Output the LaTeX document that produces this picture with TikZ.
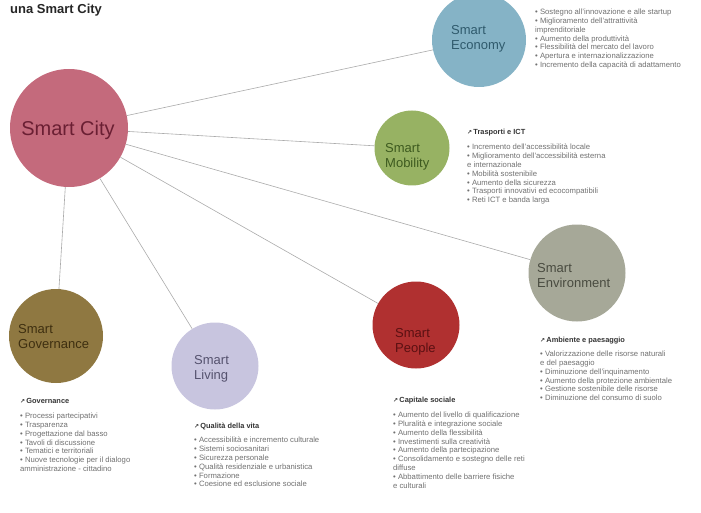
\documentclass[tikz,border=0pt]{standalone}
\usepackage{fontspec}
\setmainfont{Liberation Sans}
\newfontfamily\arrowfont{DejaVu Sans}
\definecolor{cityfill}{HTML}{C46A7C}
\definecolor{citytext}{HTML}{6A1F33}
\definecolor{econfill}{HTML}{85B3C6}
\definecolor{econtext}{HTML}{2F5A6C}
\definecolor{mobfill}{HTML}{97B263}
\definecolor{mobtext}{HTML}{3D5A1F}
\definecolor{envfill}{HTML}{A6A898}
\definecolor{envtext}{HTML}{494B40}
\definecolor{peoplefill}{HTML}{B03030}
\definecolor{peopletext}{HTML}{5A1012}
\definecolor{livfill}{HTML}{C8C5DF}
\definecolor{livtext}{HTML}{55526E}
\definecolor{govfill}{HTML}{8F7841}
\definecolor{govtext}{HTML}{3E2F10}
\definecolor{linkgray}{HTML}{ABABAB}
\definecolor{bodygray}{HTML}{707070}
\tikzset{
  hub/.style={circle, inner sep=0pt, minimum size=#1},
  link/.style={draw=linkgray, line width=0.6pt},
  blobtext/.style={anchor=west, align=left, inner sep=0pt, font=\fontsize{13}{15}\selectfont},
  listhead/.style={anchor=base west, inner sep=0pt, font=\fontsize{7.4}{8}\selectfont\bfseries, text=black!80},
  listbody/.style={anchor=north west, align=left, inner sep=0pt, font=\fontsize{7.7}{8.8}\selectfont, text=bodygray},
}
\newcommand{\headarrow}{{\arrowfont\fontsize{6}{6}\selectfont ↗}\,}
\begin{document}
\begin{tikzpicture}[x=1pt,y=-1pt]
\useasboundingbox (0,0) rectangle (701,513);

% title
\node[anchor=base west, inner sep=0pt, font=\fontsize{13}{14}\selectfont\bfseries, text=black!85] (title) at (10,13.5) {una Smart City};

% circles
\node[hub=118pt, fill=cityfill] (city) at (69,128) {};
\node[hub=94pt, fill=econfill] (econ) at (479,40) {};
\node[hub=75pt, fill=mobfill] (mob) at (412,148) {};
\node[hub=97pt, fill=envfill] (env) at (577,273) {};
\node[hub=87pt, fill=peoplefill] (people) at (416,325) {};
\node[hub=87pt, fill=livfill] (liv) at (215,366) {};
\node[hub=94pt, fill=govfill] (gov) at (56,336) {};

% connectors from the central circle
\draw[link] (city) -- (econ);
\draw[link] (city) -- (mob);
\draw[link] (city) -- (env);
\draw[link] (city) -- (people);
\draw[link] (city) -- (liv);
\draw[link] (city) -- (gov);

% circle labels
\node[inner sep=0pt, font=\fontsize{20}{21}\selectfont, text=citytext] (citylbl) at (68,130) {Smart City};
\node[blobtext, text=econtext] (econlbl) at (451,39) {Smart\\Economy};
\node[blobtext, text=mobtext] (moblbl) at (385,157) {Smart\\Mobility};
\node[blobtext, text=envtext] (envlbl) at (537,276) {Smart\\Environment};
\node[blobtext, text=peopletext] (peoplelbl) at (395,342) {Smart\\People};
\node[blobtext, text=livtext] (livlbl) at (194,369) {Smart\\Living};
\node[blobtext, text=govtext] (govlbl) at (18,337) {Smart\\Governance};

% lists
\node[listbody] (econlist) at (535,9) {• Sostegno all'innovazione e alle startup\\• Miglioramento dell'attrattività\\imprenditoriale\\• Aumento della produttività\\• Flessibilità del mercato del lavoro\\• Apertura e internazionalizzazione\\• Incremento della capacità di adattamento};

\node[listhead] (mobhead) at (467,135) {\headarrow Trasporti e ICT};
\node[listbody] (moblist) at (467,144) {• Incremento dell'accessibilità locale\\• Miglioramento dell'accessibilità esterna\\e internazionale\\• Mobilità sostenibile\\• Aumento della sicurezza\\• Trasporti innovativi ed ecocompatibili\\• Reti ICT e banda larga};

\node[listhead] (envhead) at (540,342) {\headarrow Ambiente e paesaggio};
\node[listbody] (envlist) at (540,351) {• Valorizzazione delle risorse naturali\\e del paesaggio\\• Diminuzione dell'inquinamento\\• Aumento della protezione ambientale\\• Gestione sostenibile delle risorse\\• Diminuzione del consumo di suolo};

\node[listhead] (govhead) at (20,403) {\headarrow Governance};
\node[listbody] (govlist) at (20,413) {• Processi partecipativi\\• Trasparenza\\• Progettazione dal basso\\• Tavoli di discussione\\• Tematici e territoriali\\• Nuove tecnologie per il dialogo\\amministrazione - cittadino};

\node[listhead] (livhead) at (194,428) {\headarrow Qualità della vita};
\node[listbody] (livlist) at (194,437) {• Accessibilità e incremento culturale\\• Sistemi sociosanitari\\• Sicurezza personale\\• Qualità residenziale e urbanistica\\• Formazione\\• Coesione ed esclusione sociale};

\node[listhead] (peoplehead) at (393,402) {\headarrow Capitale sociale};
\node[listbody] (peoplelist) at (393,412) {• Aumento del livello di qualificazione\\• Pluralità e integrazione sociale\\• Aumento della flessibilità\\• Investimenti sulla creatività\\• Aumento della partecipazione\\• Consolidamento e sostegno delle reti\\diffuse\\• Abbattimento delle barriere fisiche\\e culturali};
\end{tikzpicture}
\end{document}
